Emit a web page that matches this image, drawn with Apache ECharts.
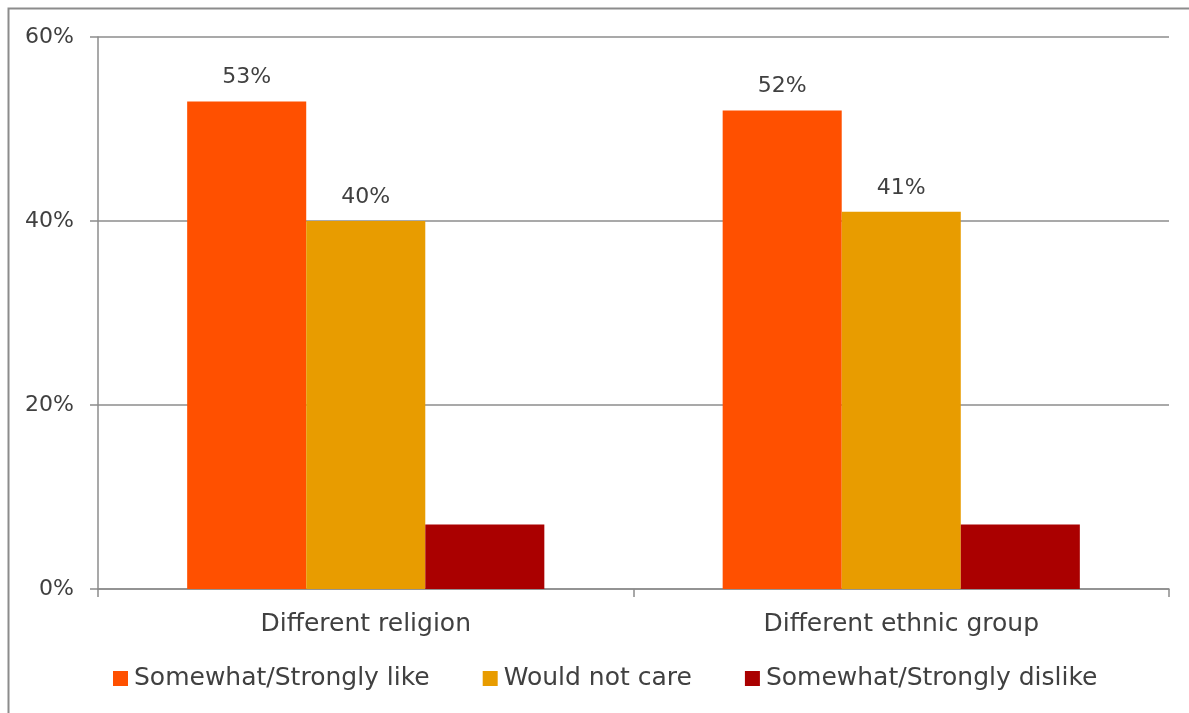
<!DOCTYPE html>
<html>
<head>
<meta charset="utf-8">
<script src="https://cdn.jsdelivr.net/npm/echarts@6/dist/echarts.min.js"></script>
<style>html,body{margin:0;padding:0;background:#fff;}#c{width:1189px;height:713px;}</style>
</head>
<body>
<div id="c"></div>
<script>
var categories = ['Different religion', 'Different ethnic group'];
var seriesNames = ['Somewhat/Strongly like', 'Would not care', 'Somewhat/Strongly dislike'];
var likeVals = [53, 52];
var notCareVals = [40, 41];
var dislikeVals = [7, 7];
var yTicks = [0, 20, 40, 60];
var colors = ['#FF5000', '#E89C00', '#AA0000'];

var FONT = 'DejaVu Sans';
var TXT = '#404040';
var chart = echarts.init(document.getElementById('c'));
function labelCfg(show) {
  return { show: show, position: 'top', distance: 13, formatter: '{c}%', fontFamily: FONT, fontSize: 22, color: TXT };
}
chart.setOption({
  animation: false,
  color: colors,
  graphic: [{
    type: 'rect', left: 6, top: 6, shape: { width: 1400, height: 800 },
    style: { fill: 'none', stroke: '#8c8c8c', lineWidth: 2 }, silent: true, z: -1
  }],
  grid: { left: 98, right: 20, top: 37, bottom: 124, containLabel: false },
  legend: {
    bottom: 17, left: 108, itemWidth: 15, itemHeight: 15, itemGap: 53,
    icon: 'rect',
    textStyle: { fontFamily: FONT, fontSize: 25, color: TXT, padding: [0, 0, 0, 1] },
    data: seriesNames
  },
  xAxis: {
    type: 'category', data: categories,
    axisLine: { lineStyle: { color: '#8c8c8c', width: 1.5 } },
    axisTick: { show: true, length: 8, lineStyle: { color: '#8c8c8c', width: 1.5 } },
    axisLabel: { fontFamily: FONT, fontSize: 25, color: TXT, margin: 23 }
  },
  yAxis: {
    type: 'value', min: 0, max: 60, interval: 20,
    axisLine: { show: true, lineStyle: { color: '#8c8c8c', width: 1.5 } },
    axisTick: { show: true, length: 8, lineStyle: { color: '#8c8c8c', width: 1.5 } },
    splitLine: { lineStyle: { color: '#8c8c8c', width: 1.5 } },
    axisLabel: { fontFamily: FONT, fontSize: 22, color: TXT, margin: 24,
      formatter: function (v) { return yTicks.indexOf(v) >= 0 ? v + '%' : ''; } }
  },
  series: [
    { name: seriesNames[0], type: 'bar', data: likeVals, barGap: '0%', barCategoryGap: '33.3%', label: labelCfg(true) },
    { name: seriesNames[1], type: 'bar', data: notCareVals, barGap: '0%', barCategoryGap: '33.3%', label: labelCfg(true) },
    { name: seriesNames[2], type: 'bar', data: dislikeVals, barGap: '0%', barCategoryGap: '33.3%', label: labelCfg(false) }
  ]
});
</script>
</body>
</html>
